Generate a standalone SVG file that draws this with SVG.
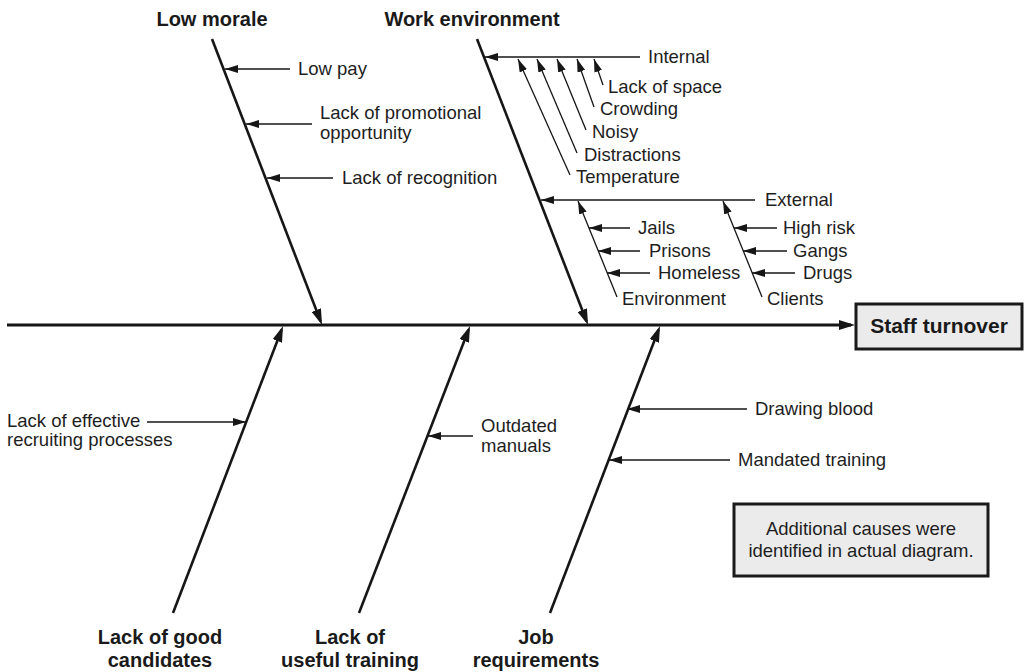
<svg xmlns="http://www.w3.org/2000/svg" width="1027" height="672" viewBox="0 0 1027 672">
  <style>
    .bone { stroke: #161616; stroke-width: 2.6; fill: none; marker-end: url(#headL); }
    .spine { stroke: #161616; stroke-width: 3; fill: none; marker-end: url(#headS); }
    .twig { stroke: #161616; stroke-width: 1.3; fill: none; marker-end: url(#headT); }
    .lbl { font-family: "Liberation Sans", Arial, Helvetica, sans-serif; font-size: 18.5px; fill: #1e1e1e; }
    .cat { font-family: "Liberation Sans", Arial, Helvetica, sans-serif; font-size: 20px; font-weight: bold; fill: #1a1a1a; text-anchor: middle; }
    .box { fill: #ebebeb; stroke: #1a1a1a; stroke-width: 3; }
  </style>
  <defs>
    <marker id="headL" markerUnits="userSpaceOnUse" viewBox="0 0 16 10" markerWidth="16" markerHeight="10" refX="12" refY="5" orient="auto">
      <path d="M0,0 L16,5 L0,10 z" fill="#161616"/>
    </marker>
    <marker id="headS" markerUnits="userSpaceOnUse" viewBox="0 0 16 10" markerWidth="16" markerHeight="10" refX="12" refY="5" orient="auto">
      <path d="M0,0 L16,5 L0,10 z" fill="#161616"/>
    </marker>
    <marker id="headT" markerUnits="userSpaceOnUse" viewBox="0 0 13 8" markerWidth="13" markerHeight="8" refX="13" refY="4" orient="auto">
      <path d="M0,0 L13,4 L0,8 z" fill="#161616"/>
    </marker>
  </defs>

  <rect width="1027" height="672" fill="#ffffff"/>

  <!-- connectors: spine, main bones and cause arrows -->
  <g id="connectors">
    <line class="spine" x1="7" y1="325" x2="851" y2="325"/>

    <!-- upper bones -->
    <line class="bone" x1="212" y1="39" x2="320.6" y2="321.3"/>
    <line class="bone" x1="477" y1="39" x2="586.6" y2="321.3"/>

    <!-- lower bones -->
    <line class="bone" x1="173" y1="613" x2="281.6" y2="329.7"/>
    <line class="bone" x1="359" y1="613" x2="468.6" y2="329.7"/>
    <line class="bone" x1="550" y1="613" x2="658.6" y2="329.7"/>

    <!-- low morale causes -->
    <line class="twig" x1="290" y1="69" x2="225" y2="69"/>
    <line class="twig" x1="312" y1="124" x2="246" y2="124"/>
    <line class="twig" x1="333" y1="178" x2="267" y2="178"/>

    <!-- work environment: internal -->
    <line class="twig" x1="640" y1="57" x2="485" y2="57"/>
    <line class="twig" x1="570" y1="175" x2="518" y2="59"/>
    <line class="twig" x1="577" y1="153" x2="537" y2="59"/>
    <line class="twig" x1="586" y1="130" x2="557" y2="59"/>
    <line class="twig" x1="594" y1="107" x2="577" y2="59"/>
    <line class="twig" x1="603" y1="85" x2="594" y2="59"/>

    <!-- work environment: external -->
    <line class="twig" x1="755" y1="200" x2="541" y2="200"/>
    <line class="twig" x1="617" y1="297" x2="578" y2="201"/>
    <line class="twig" x1="630" y1="228" x2="589" y2="228"/>
    <line class="twig" x1="640" y1="251" x2="598" y2="251"/>
    <line class="twig" x1="650" y1="273" x2="607" y2="273"/>
    <line class="twig" x1="762" y1="297" x2="723" y2="201"/>
    <line class="twig" x1="777" y1="228" x2="734" y2="228"/>
    <line class="twig" x1="787" y1="251" x2="743" y2="251"/>
    <line class="twig" x1="795" y1="273" x2="752" y2="273"/>

    <!-- lower causes -->
    <line class="twig" x1="147" y1="422" x2="246" y2="422"/>
    <line class="twig" x1="473" y1="436" x2="428" y2="436"/>
    <line class="twig" x1="747" y1="409" x2="627" y2="409"/>
    <line class="twig" x1="730" y1="460" x2="609" y2="460"/>
  </g>

  <g id="effect">
    <rect class="box" x="856" y="304" width="166" height="45"/>
    <text class="cat" x="939" y="333" style="font-size:21px">Staff turnover</text>
  </g>

  <g id="low-morale">
    <text class="cat" x="212" y="26">Low morale</text>
    <text class="lbl" x="298" y="75">Low pay</text>
    <text class="lbl" x="320" y="119">Lack of promotional</text>
    <text class="lbl" x="320" y="139">opportunity</text>
    <text class="lbl" x="342" y="184">Lack of recognition</text>
  </g>

  <g id="work-environment">
    <text class="cat" x="472" y="26">Work environment</text>
    <text class="lbl" x="648" y="63">Internal</text>
    <text class="lbl" x="608" y="93">Lack of space</text>
    <text class="lbl" x="600" y="115">Crowding</text>
    <text class="lbl" x="592" y="138">Noisy</text>
    <text class="lbl" x="584" y="161">Distractions</text>
    <text class="lbl" x="576" y="183">Temperature</text>
    <text class="lbl" x="765" y="206">External</text>
    <text class="lbl" x="638" y="234">Jails</text>
    <text class="lbl" x="649" y="257">Prisons</text>
    <text class="lbl" x="658" y="279">Homeless</text>
    <text class="lbl" x="622" y="305">Environment</text>
    <text class="lbl" x="783" y="234">High risk</text>
    <text class="lbl" x="793" y="257">Gangs</text>
    <text class="lbl" x="803" y="279">Drugs</text>
    <text class="lbl" x="767" y="305">Clients</text>
  </g>

  <g id="good-candidates">
    <text class="lbl" x="7" y="427">Lack of effective</text>
    <text class="lbl" x="7" y="446">recruiting processes</text>
    <text class="cat" x="160" y="644">Lack of good</text>
    <text class="cat" x="160" y="667">candidates</text>
  </g>

  <g id="useful-training">
    <text class="lbl" x="481" y="432">Outdated</text>
    <text class="lbl" x="481" y="452">manuals</text>
    <text class="cat" x="350" y="644">Lack of</text>
    <text class="cat" x="350" y="667">useful training</text>
  </g>

  <g id="job-requirements">
    <text class="lbl" x="755" y="415">Drawing blood</text>
    <text class="lbl" x="738" y="466">Mandated training</text>
    <text class="cat" x="536" y="644">Job</text>
    <text class="cat" x="536" y="667">requirements</text>
  </g>

  <g id="note">
    <rect class="box" x="734" y="504" width="254" height="72"/>
    <text class="lbl" x="861" y="535" text-anchor="middle">Additional causes were</text>
    <text class="lbl" x="861" y="557" text-anchor="middle">identified in actual diagram.</text>
  </g>
</svg>
